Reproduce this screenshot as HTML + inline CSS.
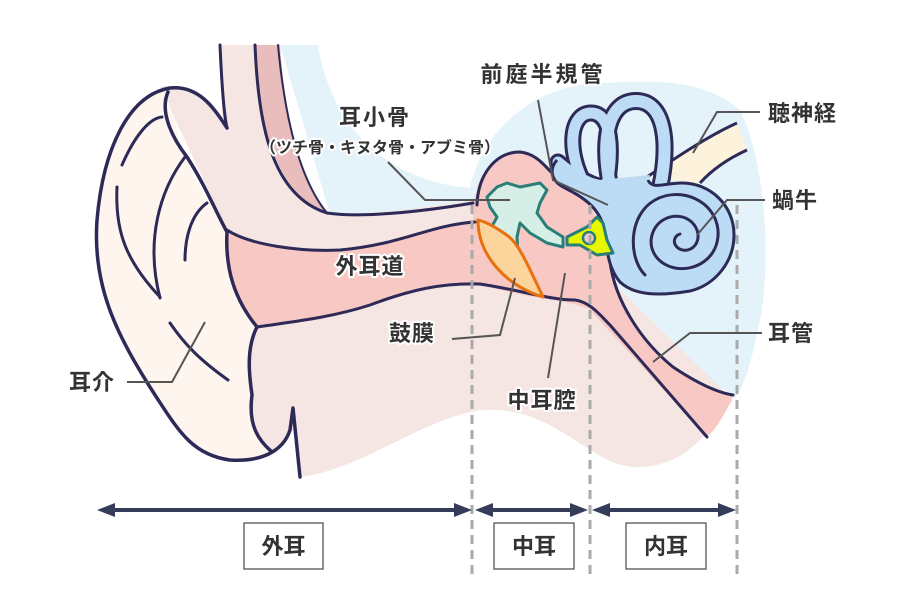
<!DOCTYPE html>
<html><head><meta charset="utf-8"><style>
html,body{margin:0;padding:0;background:#fff;}
svg{display:block;}
text{font-family:"Liberation Sans","Noto Sans CJK JP",sans-serif;font-weight:bold;fill:#333;paint-order:stroke;stroke:#fff;stroke-width:4px;stroke-linejoin:round;}
</style></head><body>
<svg width="900" height="600" viewBox="0 0 900 600" xmlns="http://www.w3.org/2000/svg">
<path d="M280,45 L318,45 C330,120 380,180 470,188 C480,140 520,95 580,85 C640,80 700,75 740,110 C765,160 772,260 760,320 C752,360 745,385 735,398 L600,300 L330,214 Z" fill="#e4f3fa"/>
<path d="M160,87 C195,80 212,105 222,125 L222,45 L255,45 C258,120 270,190 327,213 C380,215 440,205 475,200 L600,270 L733,400 C700,445 680,465 640,467 C590,470 560,405 480,410 C420,420 360,470 300,477 L293,430 L270,455 L245,420 L250,330 L227,230 Z" fill="#f5e5e3"/>
<path d="M255,45 L280,45 C285,120 300,180 327,213 C275,195 258,120 255,45 Z" fill="#e8bdbb"/>
<path d="M473,203 L477,190 C480,170 500,152 520,152 C540,155 545,170 555,178 C575,190 590,200 595,215 L610,262 C615,300 640,340 673,367 C700,385 720,393 733,396 C725,415 715,430 707,437 L590,310 C575,300 520,298 480,284 L473,225 Z" fill="#f8c8c4"/>
<path d="M227,230 C250,245 300,252 340,250 C400,245 430,225 475,222 L480,284 C440,283 410,290 370,305 C330,318 290,322 257,327 C235,300 225,270 227,230 Z" fill="#f8c8c4"/>
<g fill="none" stroke="#2e2a58" stroke-width="3" stroke-linecap="round" stroke-linejoin="round">
<path d="M227,230 C250,245 300,252 340,250 C400,245 430,225 475,222"/>
<path d="M257,327 C290,322 330,318 370,305 C410,290 440,283 480,284 C520,290 550,300 575,300 C590,302 600,315 610,325 L707,437"/>
<path d="M610,262 C615,300 640,340 673,367 C700,385 720,393 733,395"/>
<path d="M477,205 C478,175 495,152 520,152 C540,154 548,172 560,180"/>
<path d="M255,45 C258,120 270,195 327,213 C360,218 420,212 473,203"/>
<path d="M278,45 C285,120 300,180 327,213" stroke-width="2"/>
<path d="M220,45 C222,90 224,115 227,128"/>
</g>
<path d="M165,90 C175,120 180,150 187,160 C200,190 215,215 227,230 C225,270 235,300 257,327 C245,350 250,380 252,395 C248,425 258,448 278,452 C260,462 240,462 225,458 C190,450 175,420 155,395 C120,340 92,290 97,220 C103,150 128,95 165,90 Z" fill="#fdf5ee"/>
<g fill="none" stroke="#2e2a58" stroke-width="3.5" stroke-linecap="round" stroke-linejoin="round">
<path d="M227,128 C215,110 200,85 170,88 C128,95 103,150 97,220 C92,290 120,340 155,395 C178,430 192,455 230,460 C260,462 283,452 290,430 L293,408 L300,477"/>
<path d="M168,92 C160,110 170,135 187,157 C205,185 215,210 227,232 C225,270 235,300 257,327 C245,350 250,380 252,395 C248,425 258,440 272,452"/>
<path d="M122,165 C135,135 150,118 162,117" stroke-width="3"/>
<path d="M117,187 C115,230 125,260 160,297" stroke-width="3"/>
<path d="M185,157 C160,190 145,240 160,298" stroke-width="3"/>
<path d="M207,203 C190,215 185,240 185,260" stroke-width="3"/>
<path d="M170,323 C185,345 200,360 228,380" stroke-width="3"/>
</g>
<path d="M647,177 C680,155 710,135 737,123 L747,150 C725,160 710,172 700,183 Z" fill="#fdf3dc"/>
<path d="M647,177 C680,155 710,135 737,123 M747,150 C725,160 710,172 700,183" fill="none" stroke="#2e2a58" stroke-width="3"/>
<g fill="none" stroke-linecap="round">
<path d="M611,190 C600,140 608,101 636,101 C664,101 670,140 660,188" stroke="#2e2a58" stroke-width="18"/>
<path d="M585,185 C566,150 570,113 591,113 C612,113 614,150 606,190" stroke="#2e2a58" stroke-width="17"/>
<path d="M558,162 C590,190 620,194 644,190" stroke="#2e2a58" stroke-width="17"/>
<path d="M611,190 C600,140 608,101 636,101 C664,101 670,140 660,188" stroke="#bcdcf5" stroke-width="12"/>
<path d="M585,185 C566,150 570,113 591,113 C612,113 614,150 606,190" stroke="#bcdcf5" stroke-width="11"/>
<path d="M558,162 C590,190 620,194 644,190" stroke="#bcdcf5" stroke-width="11"/>
</g>
<path d="M557,160 C548,170 552,182 565,188 C585,198 598,208 603,225 C607,250 608,268 620,282 C635,296 660,296 690,291 C715,285 734,262 734,235 C734,205 710,183 682,183 C665,183 652,190 648,182 L650,175 L600,180 L570,172 Z" fill="#bcdcf5"/>
<path d="M557,160 C548,170 552,182 565,188 C585,198 598,208 603,225 C607,250 608,268 620,282 C635,296 660,296 690,291 C715,285 734,262 734,235 C734,205 710,183 682,183 C665,183 652,190 648,180" fill="none" stroke="#2e2a58" stroke-width="3"/>
<path d="M645,275 C628,258 628,215 655,200 C680,186 715,200 718,230 C720,258 695,272 675,268 C655,264 645,245 655,228 C665,212 690,212 697,230 C702,245 688,255 678,248 C672,243 674,236 680,234" fill="none" stroke="#2e2a58" stroke-width="3" stroke-linecap="round"/>
<path d="M487,197 L497,187 L507,183 L520,187 L540,183 L547,190 L540,203 L537,213 L547,227 L563,237 L563,247 L547,243 L530,233 L520,223 L517,237 L518,255 L507,247 L490,230 L497,217 L490,207 Z" fill="#d5efe6" stroke="#2a7e78" stroke-width="3" stroke-linejoin="round"/>
<path d="M567,237 L587,227 L597,217 L603,223 L607,240 L613,253 L597,255 L580,245 L567,245 Z" fill="#e7f700" stroke="#2a7e78" stroke-width="3" stroke-linejoin="round"/>
<ellipse cx="589" cy="238" rx="6" ry="6" fill="#f8c8c4" stroke="#2a7e78" stroke-width="2.5"/>
<path d="M478,220 C478,255 505,285 543,297 C530,270 520,245 508,236 C497,228 487,222 478,220 Z" fill="#fbd59c" stroke="#e8700e" stroke-width="3" stroke-linejoin="round"/>
<g stroke="#aaa" stroke-width="3" stroke-dasharray="9 6">
<line x1="472" y1="205" x2="472" y2="578"/>
<line x1="590" y1="205" x2="590" y2="578"/>
<line x1="737" y1="205" x2="737" y2="578"/>
</g>
<g fill="none" stroke="#555" stroke-width="2">
<path d="M538,100 L553,180 L608,205"/>
<path d="M388,162 L425,200 L510,200"/>
<path d="M760,112 L717,112 L693,153"/>
<path d="M765,200 L727,200 L697,235"/>
<path d="M762,333 L690,333 L653,362"/>
<path d="M452,339 L500,335 L515,278"/>
<path d="M548,378 L565,273"/>
<path d="M127,382 L172,382 L205,322"/>
</g>
<g font-size="22" letter-spacing="1">
<text x="543" y="82" text-anchor="middle" letter-spacing="3">前庭半規管</text>
<text x="375" y="125" text-anchor="middle" letter-spacing="2">耳小骨</text>
<text x="380" y="153" text-anchor="middle" font-size="16" letter-spacing="0">（ツチ骨・キヌタ骨・アブミ骨）</text>
<text x="768" y="121">聴神経</text>
<text x="772" y="208">蝸牛</text>
<text x="768" y="341">耳管</text>
<text x="370" y="274" text-anchor="middle">外耳道</text>
<text x="412" y="341" text-anchor="middle">鼓膜</text>
<text x="542" y="408" text-anchor="middle">中耳腔</text>
<text x="92" y="390" text-anchor="middle">耳介</text>
</g>
<g fill="#343c5a" stroke="#343c5a">
<line x1="105" y1="510" x2="462" y2="510" stroke-width="4"/>
<path d="M97,510 L115,503 L115,517 Z M472,510 L454,503 L454,517 Z" stroke="none"/>
<line x1="484" y1="510" x2="580" y2="510" stroke-width="4"/>
<path d="M475,510 L493,503 L493,517 Z M588,510 L570,503 L570,517 Z" stroke="none"/>
<line x1="601" y1="510" x2="727" y2="510" stroke-width="4"/>
<path d="M592,510 L610,503 L610,517 Z M736,510 L718,503 L718,517 Z" stroke="none"/>
</g>
<g fill="#fff" stroke="#555" stroke-width="1.3">
<rect x="244" y="523" width="79" height="46"/>
<rect x="494" y="523" width="80" height="46"/>
<rect x="626" y="523" width="80" height="46"/>
</g>
<g font-size="22" text-anchor="middle">
<text x="283.5" y="554">外耳</text>
<text x="534" y="554">中耳</text>
<text x="666" y="554">内耳</text>
</g>
</svg>
</body></html>
